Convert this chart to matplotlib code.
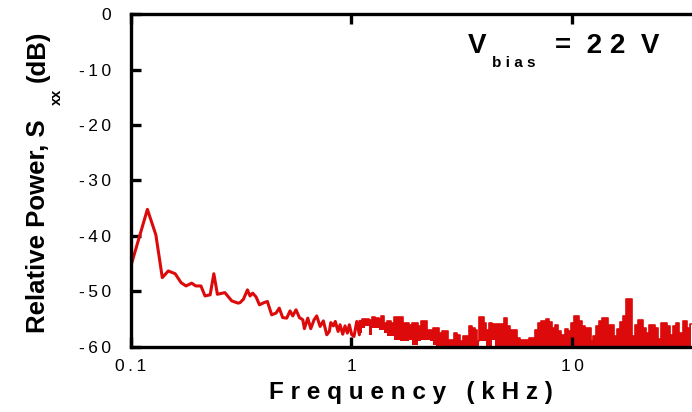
import matplotlib
matplotlib.use("Agg")
import matplotlib.pyplot as plt

plt.rcParams["font.family"] = ["Liberation Sans", "DejaVu Sans"]

# low-frequency part of the spectrum (kHz, dB)
freq_line = [0.100, 0.119, 0.130, 0.139, 0.148, 0.159, 0.169, 0.178, 0.189, 0.197,
             0.208, 0.217, 0.229, 0.238, 0.247, 0.267, 0.287, 0.307, 0.313, 0.324,
             0.338, 0.347, 0.357, 0.370, 0.383, 0.402, 0.416, 0.435, 0.455, 0.471,
             0.488, 0.509, 0.527, 0.542, 0.561, 0.581, 0.602, 0.612, 0.634, 0.654,
             0.677, 0.696, 0.721, 0.746, 0.773, 0.794, 0.806, 0.828, 0.845, 0.870,
             0.888, 0.913, 0.935, 0.958, 0.978, 1.003, 1.027, 1.057, 1.086]
level_line = [-45.5, -35.2, -39.8, -47.5, -46.3, -46.8, -48.4, -49.0, -48.5, -49.0,
              -49.0, -50.8, -50.6, -46.8, -50.5, -50.2, -51.7, -52.1, -52.0, -51.4,
              -49.7, -50.8, -50.3, -51.0, -52.4, -52.0, -51.8, -54.2, -53.9, -53.0,
              -54.7, -54.8, -53.5, -54.4, -53.3, -54.7, -55.1, -56.7, -54.8, -56.7,
              -55.1, -54.4, -56.3, -55.3, -57.8, -57.2, -55.6, -56.2, -55.4, -57.2,
              -56.0, -57.7, -56.2, -57.5, -56.0, -57.8, -58.1, -55.4, -57.8]

# dense part: upper and lower envelope of the trace
freq_band = [1.094, 1.129, 1.177, 1.214, 1.253, 1.306, 1.348, 1.376, 1.420, 1.481,
             1.528, 1.576, 1.626, 1.678, 1.731, 1.786, 1.843, 1.901, 1.962, 2.024,
             2.089, 2.155, 2.224, 2.295, 2.368, 2.443, 2.520, 2.600, 2.683, 2.768,
             2.856, 2.947, 3.041, 3.138, 3.237, 3.340, 3.446, 3.556, 3.669, 3.746,
             3.825, 3.947, 4.030, 4.115, 4.246, 4.381, 4.520, 4.664, 4.812, 4.966,
             5.124, 5.287, 5.455, 5.570, 5.688, 5.869, 6.055, 6.248, 6.446, 6.652,
             6.863, 7.079, 7.304, 7.537, 7.696, 7.941, 8.193, 8.454, 8.722, 9.095,
             9.385, 9.683, 9.989, 10.31, 10.52, 10.86, 11.20, 11.56, 11.93, 12.31,
             12.57, 12.97, 13.38, 13.80, 14.24, 14.70, 15.16, 15.65, 16.14, 16.66,
             17.19, 17.74, 18.30, 18.88, 19.48, 20.10, 20.53, 21.18, 21.85, 22.54,
             23.26, 24.00, 24.76, 25.55, 26.36, 27.20, 28.06, 28.95, 29.87, 31.14,
             32.47, 33.50, 34.57]
band_top = [-55.4, -55.0, -55.0, -55.1, -54.6, -54.8, -55.0, -54.4, -55.7, -55.4,
            -55.7, -54.6, -54.6, -54.6, -55.7, -55.7, -56.0, -55.7, -55.7, -56.3,
            -55.4, -55.4, -56.9, -56.9, -56.6, -56.6, -57.5, -57.2, -57.2, -58.7,
            -58.7, -57.5, -57.8, -59.0, -58.1, -58.1, -56.3, -56.5, -56.9, -59.0,
            -54.6, -54.6, -55.7, -56.9, -55.6, -55.8, -55.8, -55.8, -55.8, -54.8,
            -56.3, -56.9, -56.9, -56.9, -58.4, -58.8, -58.8, -58.8, -58.3, -58.4,
            -56.9, -55.7, -55.4, -55.4, -55.0, -55.5, -56.6, -56.0, -57.2, -57.8,
            -56.8, -57.2, -55.7, -54.4, -54.4, -55.4, -56.2, -56.5, -56.6, -59.0,
            -58.1, -56.3, -55.4, -54.8, -54.8, -56.0, -56.0, -58.1, -56.8, -55.5,
            -54.5, -51.4, -51.4, -58.0, -56.0, -55.2, -55.2, -56.5, -57.4, -56.0,
            -56.0, -56.6, -58.5, -55.7, -55.7, -56.3, -57.9, -56.3, -55.6, -57.4,
            -55.4, -56.6, -55.9]
band_bottom = [-57.5, -56.6, -56.3, -57.8, -56.6, -56.6, -56.9, -57.0, -57.5, -58.1,
               -58.1, -58.7, -58.7, -59.0, -59.0, -59.0, -58.7, -59.6, -59.6, -59.0,
               -58.7, -58.7, -58.7, -59.0, -59.6, -59.9, -60.5, -60.5, -60.5, -60.5,
               -60.5, -60.5, -60.5, -60.5, -60.5, -60.5, -60.5, -60.5, -60.5, -60.5,
               -59.0, -59.0, -59.0, -60.5, -60.5, -58.7, -60.5, -60.5, -60.5, -60.5,
               -60.5, -60.5, -60.5, -60.5, -60.5, -60.5, -60.5, -60.5, -60.5, -60.5,
               -60.5, -60.5, -60.5, -60.5, -60.5, -60.5, -60.5, -60.5, -60.5, -60.5,
               -60.5, -60.5, -60.5, -60.5, -60.5, -60.5, -60.5, -60.5, -60.5, -60.5,
               -60.5, -60.5, -60.5, -60.5, -60.5, -60.5, -60.5, -60.5, -60.5, -60.5,
               -60.5, -60.5, -60.5, -60.5, -60.5, -60.5, -60.5, -60.5, -60.5, -60.5,
               -60.5, -60.5, -60.5, -60.5, -60.5, -60.5, -60.5, -60.5, -60.5, -60.5,
               -60.5, -60.5, -60.5]

x_ticks = [0.1, 1, 10]
x_tick_labels = ["0.1", "1", "10"]
y_ticks = [0, -10, -20, -30, -40, -50, -60]
y_tick_labels = ["0", "-10", "-20", "-30", "-40", "-50", "-60"]

red = "#dc0a0a"


def spaced(s, sep="\u2009"):
    return sep.join(s)


fig = plt.figure(figsize=(6.92, 4.12), dpi=100)
ax = fig.add_axes([0.1889, 0.1578, 0.8111, 0.8082])

ax.plot(freq_line + freq_band[:1], level_line + band_top[:1], color=red, lw=2.2)
ax.fill_between(freq_band, band_bottom, band_top, step="mid", color=red, lw=0)
ax.step(freq_band, band_top, where="mid", color=red, lw=1.2)

ax.set_xscale("log")
ax.set_xlim(0.1, 34.9)
ax.set_ylim(-60, 0)

ax.set_xticks(x_ticks)
ax.set_xticklabels([spaced(s) for s in x_tick_labels])
ax.set_yticks(y_ticks)
ax.set_yticklabels([spaced(s) for s in y_tick_labels])
ax.minorticks_off()

ax.spines["right"].set_visible(False)
for side in ["left", "top", "bottom"]:
    ax.spines[side].set_linewidth(2.4)
ax.tick_params(axis="both", direction="in", length=7, width=2.4, labelsize=12.5)
ax.tick_params(axis="x", top=True, pad=9)
ax.tick_params(axis="y", right=False, pad=14)

ax.set_xlabel(spaced("Frequency (kHz)", " "), fontsize=17.5, fontweight="bold", labelpad=5)

# y label built from pieces so the subscript sits like the original
ylab = dict(rotation=90, rotation_mode="anchor", ha="left", va="baseline", fontweight="bold")
fig.text(45 / 692, 1 - 333 / 412, "Relative Power, S", fontsize=18.5, **ylab)
fig.text(61 / 692, 1 - 105 / 412, "xx", fontsize=10.5, **ylab)
fig.text(45 / 692, 1 - 82 / 412, "(dB)", fontsize=18.5, **ylab)

fig.text(468 / 692, 1 - 53 / 412, "V", fontsize=20, fontweight="bold", va="baseline")
fig.text(492 / 692, 1 - 67 / 412, spaced("bias", " "), fontsize=11, fontweight="bold", va="baseline")
fig.text(555 / 692, 1 - 53 / 412, "=  2 2  V", fontsize=20, fontweight="bold", va="baseline")

fig.savefig("out.png", dpi=100)
